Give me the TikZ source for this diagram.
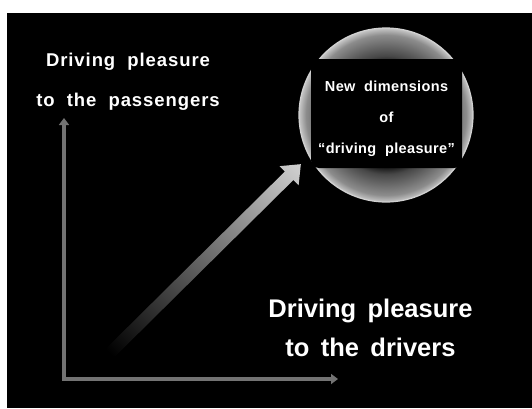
\documentclass[tikz,border=0pt]{standalone}
\usepackage{fontspec}
\setmainfont{Liberation Sans}
\newfontfamily\labelfont[LetterSpace=5,WordSpace=2]{Liberation Sans}
\newfontfamily\lensfont[LetterSpace=2.5,WordSpace=2]{Liberation Sans}
\newfontfamily\titlefont[WordSpace=1.6]{Liberation Sans}
\usetikzlibrary{arrows.meta, positioning, shapes.geometric}
\pgfdeclareradialshading{glass}{\pgfpointorigin}{color(0bp)=(black); color(14bp)=(black); color(17bp)=(black!72); color(23bp)=(black!45); color(25bp)=(black!22); color(50bp)=(black!22)}

\begin{document}
\begin{tikzpicture}[
    x=1pt, y=1pt,
    axis/.style={draw=black!55, line width=4.5pt, line cap=rect, -{Triangle[width=10pt,length=7pt]}},
    panel/.style={fill=black, rounded corners=8pt, minimum width=151pt, minimum height=109pt, inner sep=0pt},
    lens/.style={circle, minimum size=174pt, inner sep=0pt, shade, shading=glass, draw=black!18, line width=1.2pt},
    caption/.style={text=white, align=center, inner sep=0pt}
]
    \useasboundingbox (0,0) rectangle (532,408);
    \fill[white] (0,0) rectangle (532,408);
    \fill[black] (7,0) rectangle (532,395);

    % axes
    \coordinate (origin) at (64,29);
    \coordinate (yend) at (64,290);
    \coordinate (xend) at (338,29);
    \draw[axis] (origin) -- (yend);
    \draw[axis] (origin) -- (xend);

    % growth arrow
    \coordinate (tail) at (110,55);
    \coordinate (tip) at (301,244);
    \shade[transform canvas={shift={(110,55)}, rotate=44.7}, left color=black, right color=black!18]
        (0,-6) -- (252,-6) -- (252,-13.5) -- (268.5,0) -- (252,13.5) -- (252,6) -- (0,6) -- cycle;

    % lens
    \node[lens] (lens) at (386,293) {};
    \node[panel] (panel) at (386.5,294.5) {};
    \node[caption, font=\lensfont\bfseries\fontsize{14.5}{31}\selectfont] (lenstext)
        at ([yshift=-5pt]panel.center) {New dimensions\\of\\“driving pleasure”};

    % axis names
    \node[caption, font=\labelfont\bfseries\fontsize{18.5}{40}\selectfont] (yname)
        at (128,325.8) {Driving pleasure\\to the passengers};
    \node[caption, font=\titlefont\bfseries\fontsize{25.5}{39}\selectfont] (xname)
        at (370.5,79.8) {Driving pleasure\\to the drivers};
\end{tikzpicture}
\end{document}
